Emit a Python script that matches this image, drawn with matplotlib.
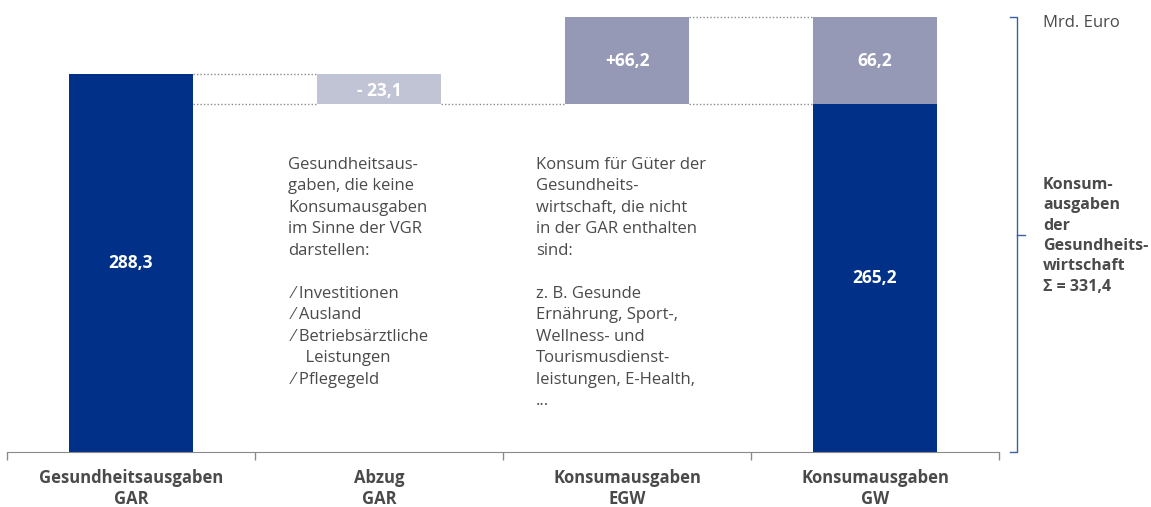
import matplotlib.pyplot as plt

plt.rcParams['font.family'] = ['Open Sans', 'DejaVu Sans']

# Daten (Mrd. Euro)
kategorien = ["Gesundheitsausgaben\nGAR", "Abzug\nGAR", "Konsumausgaben\nEGW", "Konsumausgaben\nGW"]
gar = 288.3
abzug = -23.1
egw = 66.2

gw_basis = gar + abzug
summe = gw_basis + egw

navy = "#003087"
hell = "#c1c4d4"
mittel = "#9699b6"
grau = "#4a4a4a"
linie = "#8a8a8a"


def fmt(v):
    return f"{v:.1f}".replace(".", ",")


fig = plt.figure(figsize=(11.51, 5.07), dpi=100)
ax = fig.add_axes([7 / 1151, 55 / 507, 992 / 1151, 437 / 507])

x = [0.5, 1.5, 2.5, 3.5]
b = 0.5

ax.bar(x[0], gar, width=b, color=navy)
ax.bar(x[1], -abzug, bottom=gw_basis, width=b, color=hell)
ax.bar(x[2], egw, bottom=gw_basis, width=b, color=mittel)
ax.bar(x[3], gw_basis, width=b, color=navy)
ax.bar(x[3], egw, bottom=gw_basis, width=b, color=mittel)

# Werte in den Balken
kw = dict(color="white", fontweight="bold", fontsize=12.5, ha="center", va="center")
ax.text(x[0], gar / 2, fmt(gar), **kw)
ax.text(x[1], gw_basis - abzug / 2 - 2, "- " + fmt(-abzug), **kw)
ax.text(x[2], gw_basis + egw / 2, "+" + fmt(egw), **kw)
ax.text(x[3], gw_basis / 2, fmt(gw_basis), **kw)
ax.text(x[3], gw_basis + egw / 2, fmt(egw), **kw)

# gepunktete Verbindungen
dk = dict(color=linie, linestyle=(0, (1, 1.5)), linewidth=1)
ax.hlines([gar, gw_basis], x[0] + b / 2, x[1] - b / 2, **dk)
ax.hlines(gw_basis, x[1] + b / 2, x[2] - b / 2, **dk)
ax.hlines([summe, gw_basis], x[2] + b / 2, x[3] - b / 2, **dk)

# Erläuterungen
tk = dict(color=grau, fontsize=12, va="top", ha="left", linespacing=1.46)
ax.text(1.133, 225, "Gesundheitsaus-\ngaben, die keine\nKonsumausgaben\nim Sinne der VGR\ndarstellen:\n\n"
        " ⁄ Investitionen\n ⁄ Ausland\n ⁄ Betriebsärztliche\n    Leistungen\n ⁄ Pflegegeld", **tk)
ax.text(2.133, 225, "Konsum für Güter der\nGesundheits-\nwirtschaft, die nicht\nin der GAR enthalten\nsind:\n\n"
        "z. B. Gesunde\nErnährung, Sport-,\nWellness- und\nTourismusdienst-\nleistungen, E-Health,\n...", **tk)

# Achsen
ax.set_xlim(0, 4)
ax.set_ylim(0, 333)
for s in ["top", "left", "right"]:
    ax.spines[s].set_visible(False)
ax.spines["bottom"].set_color(linie)
ax.set_yticks([])
ax.set_xticks([0, 1, 2, 3, 4])
ax.set_xticklabels([])
ax.tick_params(axis="x", which="major", direction="out", length=6, color=linie, width=1)
ax.set_xticks(x, minor=True)
ax.set_xticklabels(kategorien, minor=True, fontweight="bold", fontsize=12, color=grau, linespacing=1.25)
ax.tick_params(axis="x", which="minor", length=0, pad=12)

# Klammer rechts
bx = 4.073
bk = dict(color="#3a5ea8", linewidth=1, clip_on=False)
ax.plot([bx - 0.03, bx, bx, bx - 0.03], [summe, summe, 0, 0], **bk)
ax.plot([bx, bx + 0.03], [summe / 2, summe / 2], **bk)

fig.text(1043 / 1151, 1 - 23 / 507, "Mrd. Euro", color=grau, fontsize=12, va="center", ha="left")
fig.text(1043 / 1151, 1 - 177 / 507, "Konsum-\nausgaben\nder\nGesundheits-\nwirtschaft\nΣ = 331,4",
         color=grau, fontsize=11.5, fontweight="bold", va="top", ha="left", linespacing=1.36)

fig.savefig("out.png", dpi=100)
